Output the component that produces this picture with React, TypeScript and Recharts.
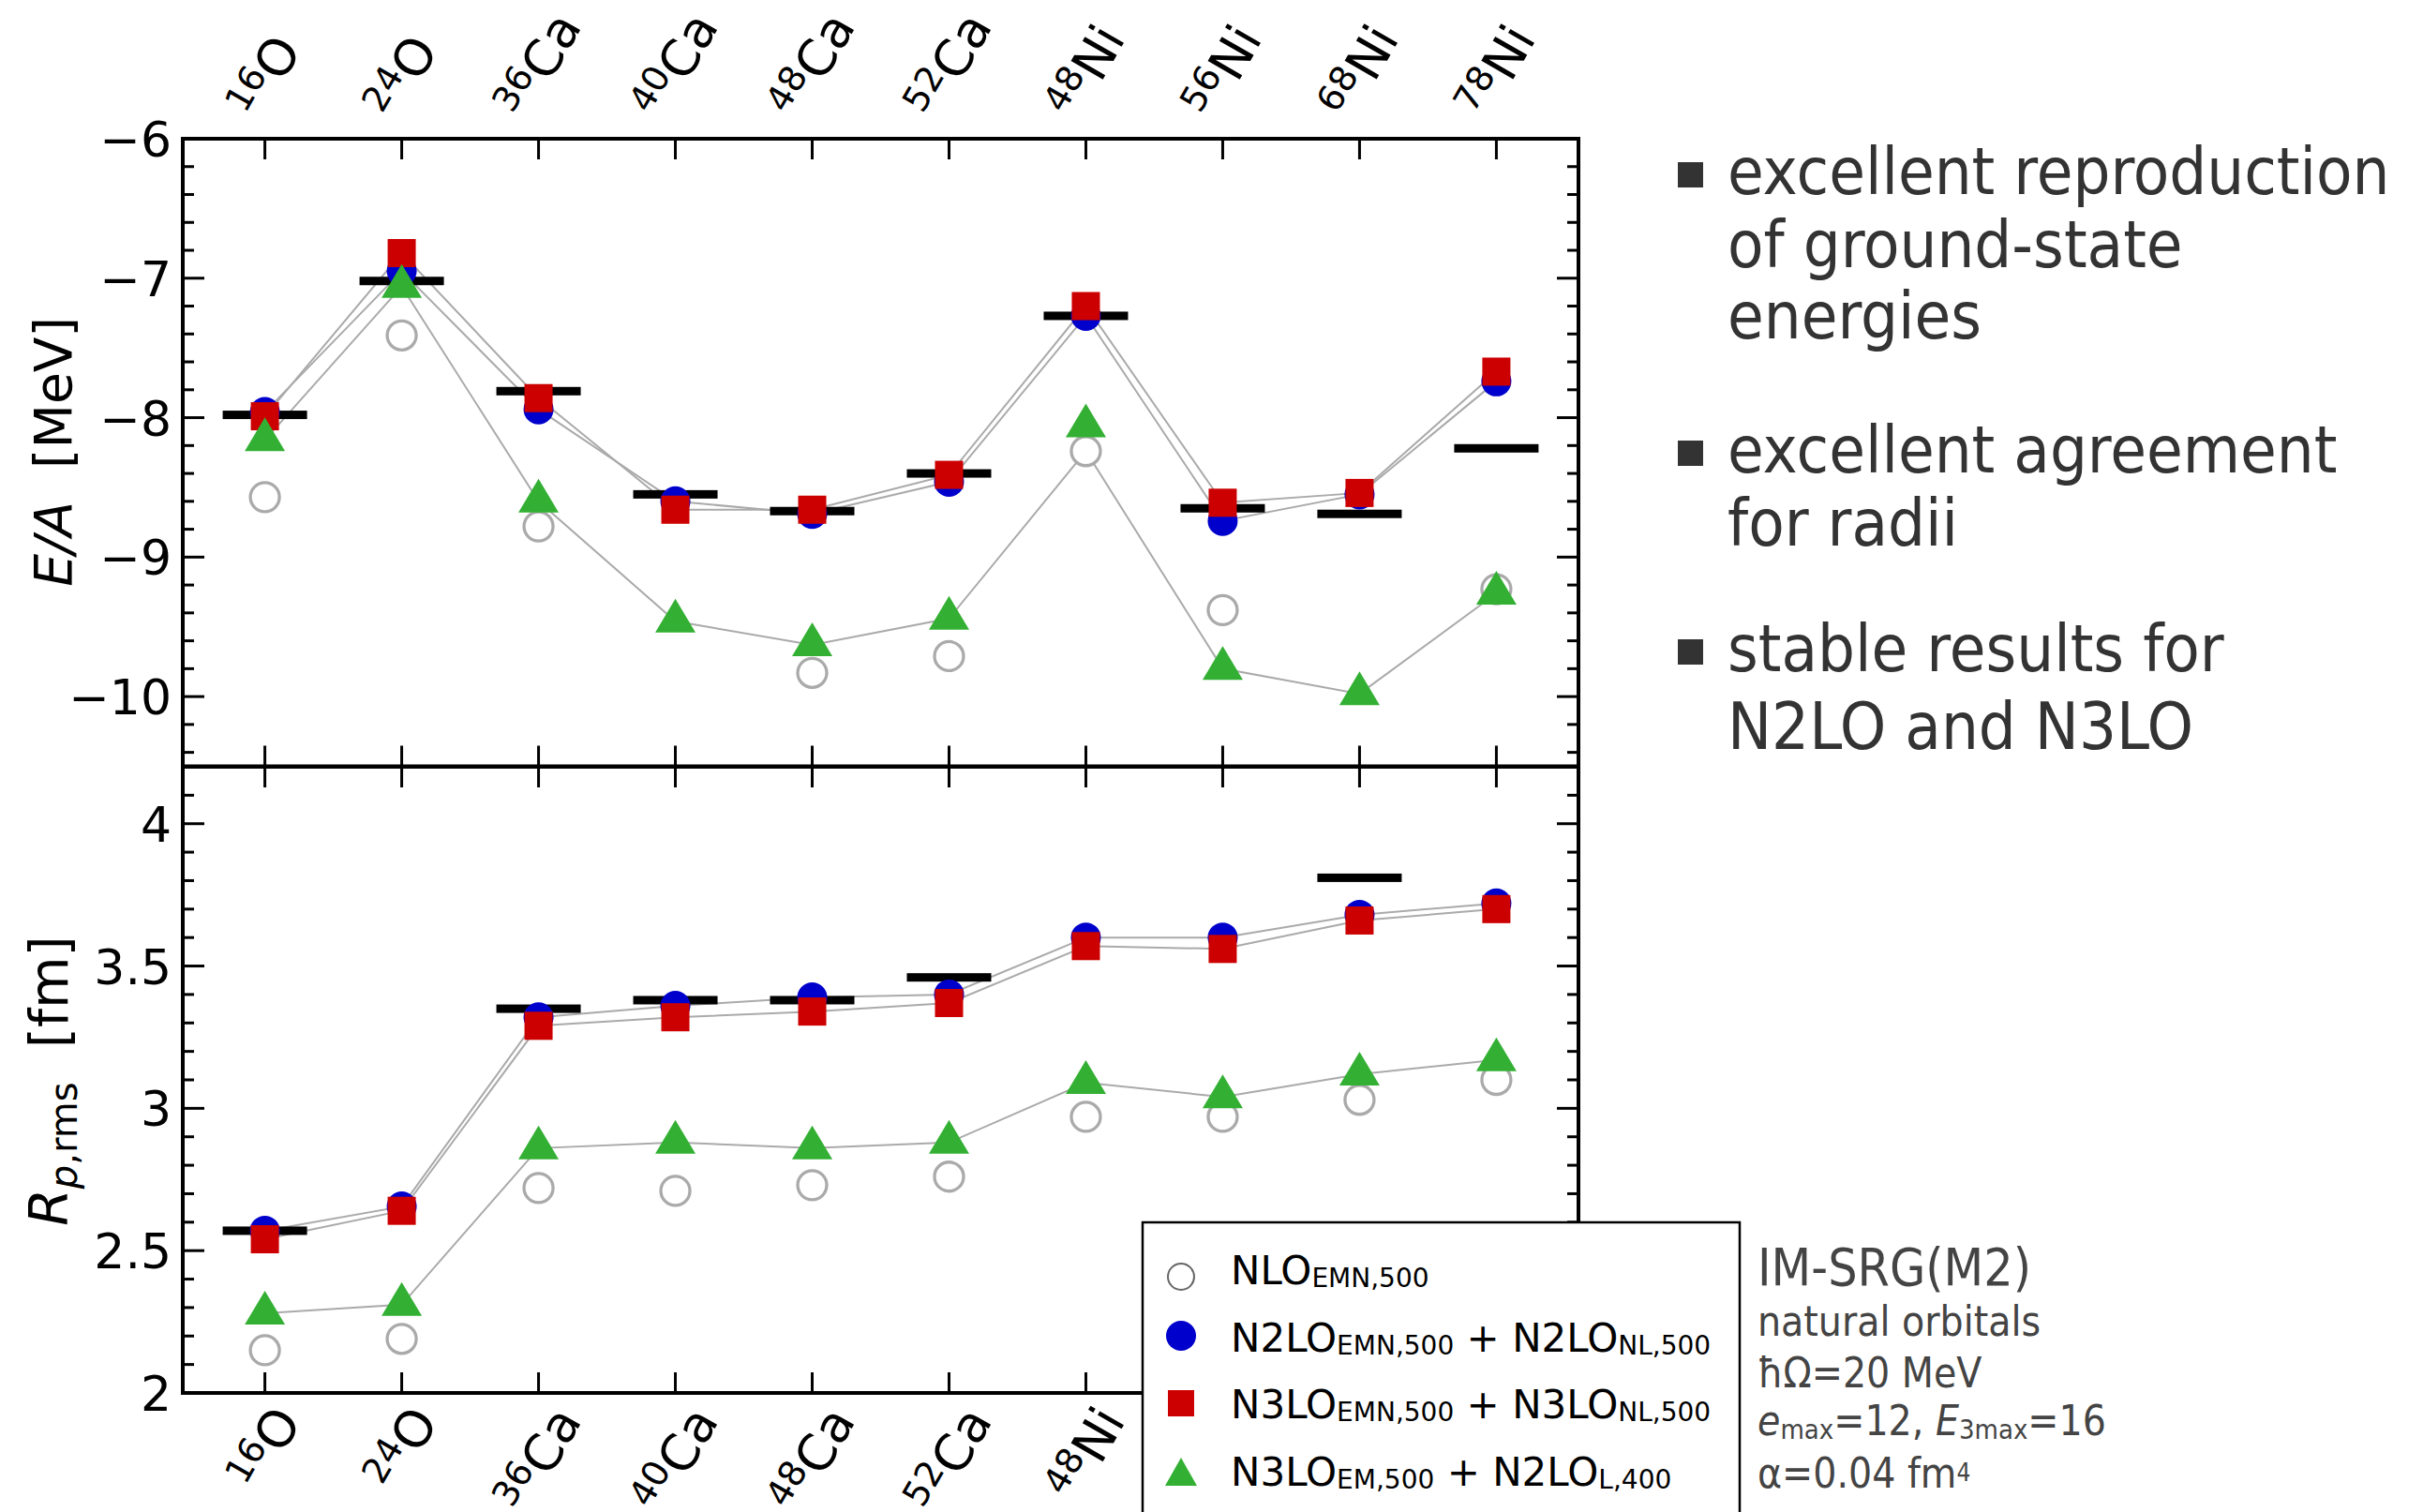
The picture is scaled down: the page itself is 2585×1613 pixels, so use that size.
import React from 'react';
import { LineChart, Line, XAxis, YAxis, ReferenceArea } from 'recharts';

// ---- nuclei ----
const massNumbers = ['16', '24', '36', '40', '48', '52', '48', '56', '68', '78'];
const elementSymbols = ['O', 'O', 'Ca', 'Ca', 'Ca', 'Ca', 'Ni', 'Ni', 'Ni', 'Ni'];
const isotopeIndex = [0, 1, 2, 3, 4, 5, 6, 7, 8, 9];

// ---- ground-state energy per nucleon E/A [MeV] ----
const nloEnergy = [-8.57, -7.41, -8.78, null, -9.83, -9.71, -8.24, -9.38, null, -9.23];
const n2loEnergy = [-7.96, -6.95, -7.94, -8.6, -8.69, -8.46, -7.27, -8.74, -8.55, -7.74];
const n3loEnergy = [-7.99, -6.82, -7.86, -8.66, -8.66, -8.41, -7.2, -8.61, -8.54, -7.67];
const n3loEmEnergy = [-8.16, -7.06, -8.6, -9.46, -9.63, -9.44, -8.06, -9.8, -9.98, -9.26];
// guide line drawn through the N3LO_EM,500 + N2LO_L,400 results
const n3loEmEnergyGuide = [-8.16, -7.06, -8.6, -9.46, -9.63, -9.44, -8.24, -9.8, -9.98, -9.26];
const expEnergy = [-7.98, -7.02, -7.81, -8.55, -8.67, -8.4, -7.27, -8.65, -8.69, -8.22];

// ---- point-proton rms radius [fm] ----
const nloRadius = [2.15, 2.19, 2.72, 2.71, 2.73, 2.76, 2.97, 2.97, 3.03, 3.1];
const n2loRadius = [2.57, 2.655, 3.32, 3.36, 3.39, 3.4, 3.6, 3.6, 3.68, 3.72];
const n3loRadius = [2.54, 2.64, 3.29, 3.32, 3.34, 3.37, 3.57, 3.56, 3.66, 3.7];
const n3loEmRadius = [2.28, 2.31, 2.86, 2.88, 2.86, 2.88, 3.09, 3.04, 3.12, 3.17];
const expRadius = [2.57, null, 3.35, 3.38, 3.38, 3.46, null, null, 3.81, null];

// ---- axis ticks ----
const energyDomain = [-10.5, -6];
const energyMajorTicks = [-10, -9, -8, -7, -6];
const energyMinorTicks = [-10.4, -10.2, -9.8, -9.6, -9.4, -9.2, -8.8, -8.6, -8.4, -8.2, -7.8, -7.6, -7.4, -7.2, -6.8, -6.6, -6.4, -6.2];
const radiusDomain = [2, 4.2];
const radiusMajorTicks = [2, 2.5, 3, 3.5, 4];
const radiusMinorTicks = [2.1, 2.2, 2.3, 2.4, 2.6, 2.7, 2.8, 2.9, 3.1, 3.2, 3.3, 3.4, 3.6, 3.7, 3.8, 3.9, 4.1];
const xDomain = [-0.6, 9.6];

// ---- style ----
const BLUE = '#0000cc';
const RED = '#cc0000';
const GREEN = '#33b033';
const GUIDE = '#aaaaaa';
const FONT = "'DejaVu Sans', sans-serif";
const FONT_COND = "'DejaVu Sans Condensed', 'DejaVu Sans', sans-serif";

const PLOT_LEFT = 195;
const PLOT_RIGHT = 1684;
const TICK_FONT = 52;
const ISO_FONT = 54;
const ISO_SUP_FONT = 38;

const energyRows = isotopeIndex.map((i) => ({
  idx: i,
  nlo: nloEnergy[i],
  n2lo: n2loEnergy[i],
  n3lo: n3loEnergy[i],
  n3loEm: n3loEmEnergy[i],
  n3loEmGuide: n3loEmEnergyGuide[i],
  exp: expEnergy[i],
}));

const radiusRows = isotopeIndex.map((i) => ({
  idx: i,
  nlo: nloRadius[i],
  n2lo: n2loRadius[i],
  n3lo: n3loRadius[i],
  n3loEm: n3loEmRadius[i],
  n3loEmGuide: n3loEmRadius[i],
  exp: expRadius[i],
}));

// ---- marker shapes ----
const empty = (p: any) => <g key={`e-${p.index}`} />;
const missing = (p: any) => p.cy == null || p.value == null || Number.isNaN(p.cy);

const openDot = (p: any) =>
  missing(p) ? empty(p) : (
    <circle key={`o-${p.index}`} cx={p.cx} cy={p.cy} r={15.5} fill="#fff" stroke="#aaaaaa" strokeWidth={3.3} />
  );
const blueDot = (p: any) =>
  missing(p) ? empty(p) : <circle key={`b-${p.index}`} cx={p.cx} cy={p.cy} r={16} fill={BLUE} />;
const redDot = (p: any) =>
  missing(p) ? empty(p) : <rect key={`r-${p.index}`} x={p.cx - 15} y={p.cy - 15} width={30} height={30} fill={RED} />;
const greenDot = (p: any) =>
  missing(p) ? empty(p) : (
    <path
      key={`g-${p.index}`}
      d={`M${p.cx},${p.cy - 24} L${p.cx + 21.5},${p.cy + 12} L${p.cx - 21.5},${p.cy + 12} Z`}
      fill={GREEN}
    />
  );
const expBar = (p: any) =>
  missing(p) ? empty(p) : <rect key={`x-${p.index}`} x={p.cx - 45} y={p.cy - 4.5} width={90} height={9} fill="#000" />;

// ---- tick renderers ----
const GLYPH_EM: Record<string, number> = {
  '0': 0.636, '1': 0.636, '2': 0.636, '3': 0.636, '4': 0.636, '5': 0.636, '6': 0.636, '7': 0.636, '8': 0.636, '9': 0.636,
  O: 0.787, C: 0.698, a: 0.613, N: 0.748, i: 0.278,
};
const labelLength = (i: number) =>
  massNumbers[i].split('').reduce((s, c) => s + GLYPH_EM[c] * ISO_SUP_FONT, 0) +
  elementSymbols[i].split('').reduce((s, c) => s + GLYPH_EM[c] * ISO_FONT, 0);

function IsotopeLabel({ i, cx, side, edge }: { i: number; cx: number; side: 'top' | 'bottom'; edge: number }) {
  const L = labelLength(i);
  const A = 0.95 * ISO_FONT;
  let ax: number;
  let ay: number;
  let anchor: 'start' | 'end';
  if (side === 'top') {
    ax = cx - (0.5 * L - 0.866 * A) / 2 - 5;
    ay = edge;
    anchor = 'start';
  } else {
    ax = cx + (0.5 * L + 0.866 * A) / 2 - 5;
    ay = edge + 0.5 * A;
    anchor = 'end';
  }
  return (
    <text x={ax} y={ay} textAnchor={anchor} transform={`rotate(-60 ${ax} ${ay})`} fontFamily={FONT} fill="#000">
      <tspan fontSize={ISO_SUP_FONT} dy={-18}>{massNumbers[i]}</tspan>
      <tspan fontSize={ISO_FONT} dy={18}>{elementSymbols[i]}</tspan>
    </text>
  );
}

type Panel = { top: number; bottom: number; labelSide: 'top' | 'bottom' };

const xTick = (panel: Panel) => (props: any) => {
  const cx = props.payload.coordinate;
  const i = props.payload.value;
  const edge = panel.labelSide === 'top' ? panel.top - 17 : panel.bottom + 4;
  return (
    <g key={`xt-${i}`}>
      <line x1={cx} x2={cx} y1={panel.top} y2={panel.top + 22} stroke="#000" strokeWidth={3} />
      <line x1={cx} x2={cx} y1={panel.bottom} y2={panel.bottom - 22} stroke="#000" strokeWidth={3} />
      <IsotopeLabel i={i} cx={cx} side={panel.labelSide} edge={edge} />
    </g>
  );
};

const yTick = (majors: number[], fmt: (v: number) => string) => (props: any) => {
  const y = props.payload.coordinate;
  const v = props.payload.value;
  const major = majors.includes(v);
  const len = major ? 23 : 12;
  return (
    <g key={`yt-${v}`}>
      <line x1={PLOT_LEFT} x2={PLOT_LEFT + len} y1={y} y2={y} stroke="#000" strokeWidth={3} />
      <line x1={PLOT_RIGHT - len} x2={PLOT_RIGHT} y1={y} y2={y} stroke="#000" strokeWidth={3} />
      {major && (
        <text x={PLOT_LEFT - 12} y={y + 19} textAnchor="end" fontSize={TICK_FONT} fontFamily={FONT} fill="#000">
          {fmt(v)}
        </text>
      )}
    </g>
  );
};

const fmtEnergy = (v: number) => (v < 0 ? `\u2212${Math.abs(v)}` : `${v}`);
const fmtRadius = (v: number) => `${v}`;

// ---- series stack shared by both panels ----
function seriesLayers() {
  return [
    <Line key="l-em" dataKey="n3loEmGuide" stroke={GUIDE} strokeWidth={2} dot={false} activeDot={false} isAnimationActive={false} />,
    <Line key="l-n2" dataKey="n2lo" stroke={GUIDE} strokeWidth={2} dot={false} activeDot={false} isAnimationActive={false} />,
    <Line key="l-n3" dataKey="n3lo" stroke={GUIDE} strokeWidth={2} dot={false} activeDot={false} isAnimationActive={false} />,
    <Line key="d-nlo" dataKey="nlo" stroke="none" dot={openDot} activeDot={false} isAnimationActive={false} />,
    <Line key="d-exp" dataKey="exp" stroke="none" dot={expBar} activeDot={false} isAnimationActive={false} />,
    <Line key="d-n2" dataKey="n2lo" stroke="none" dot={blueDot} activeDot={false} isAnimationActive={false} />,
    <Line key="d-n3" dataKey="n3lo" stroke="none" dot={redDot} activeDot={false} isAnimationActive={false} />,
    <Line key="d-em" dataKey="n3loEm" stroke="none" dot={greenDot} activeDot={false} isAnimationActive={false} />,
  ];
}

function EnergyPanel() {
  const panel: Panel = { top: 148, bottom: 817.5, labelSide: 'top' };
  return (
    <LineChart width={1800} height={830} data={energyRows} margin={{ top: 48, right: 116, bottom: 12.5, left: 45 }}>
      <XAxis
        dataKey="idx"
        type="number"
        domain={xDomain}
        ticks={isotopeIndex}
        interval={0}
        orientation="top"
        height={100}
        axisLine={false}
        tickLine={false}
        tick={xTick(panel)}
      />
      <YAxis
        type="number"
        domain={energyDomain}
        ticks={[...energyMinorTicks, ...energyMajorTicks]}
        interval={0}
        width={150}
        axisLine={false}
        tickLine={false}
        tick={yTick(energyMajorTicks, fmtEnergy)}
      />
      {seriesLayers()}
      <ReferenceArea x1={xDomain[0]} x2={xDomain[1]} y1={energyDomain[0]} y2={energyDomain[1]} fill="none" fillOpacity={0} stroke="#000" strokeWidth={4} />
    </LineChart>
  );
}

function RadiusPanel() {
  const panel: Panel = { top: 118, bottom: 786, labelSide: 'bottom' };
  return (
    <LineChart width={1800} height={913} data={radiusRows} margin={{ top: 118, right: 116, bottom: 7, left: 45 }}>
      <XAxis
        dataKey="idx"
        type="number"
        domain={xDomain}
        ticks={isotopeIndex}
        interval={0}
        orientation="bottom"
        height={120}
        axisLine={false}
        tickLine={false}
        tick={xTick(panel)}
      />
      <YAxis
        type="number"
        domain={radiusDomain}
        ticks={[...radiusMinorTicks, ...radiusMajorTicks]}
        interval={0}
        width={150}
        axisLine={false}
        tickLine={false}
        tick={yTick(radiusMajorTicks, fmtRadius)}
      />
      {seriesLayers()}
      <ReferenceArea x1={xDomain[0]} x2={xDomain[1]} y1={radiusDomain[0]} y2={radiusDomain[1]} fill="none" fillOpacity={0} stroke="#000" strokeWidth={4} />
    </LineChart>
  );
}

// ---- legend, notes and axis titles ----
const SUB = 28;
function Sub({ children }: { children: React.ReactNode }) {
  return (
    <tspan fontSize={SUB} dy={3}>
      {children}
    </tspan>
  );
}
function Main({ children }: { children: React.ReactNode }) {
  return <tspan dy={-3}>{children}</tspan>;
}

const bulletItems = [
  { lines: ['excellent reproduction', 'of ground-state', 'energies'], baselines: [207, 285, 361] },
  { lines: ['excellent agreement', 'for radii'], baselines: [504, 582] },
  { lines: ['stable results for', 'N2LO and N3LO'], baselines: [716, 799] },
];

function Overlay() {
  return (
    <svg width={2585} height={1613} style={{ position: 'absolute', left: 0, top: 0, pointerEvents: 'none' }}>
      {/* axis titles */}
      <text x={76} y={482} transform="rotate(-90 76 482)" textAnchor="middle" fontSize={55} fontFamily={FONT} fill="#000">
        <tspan fontStyle="italic">E/A</tspan>
        <tspan>{'\u00a0\u00a0[MeV]'}</tspan>
      </text>
      <text x={72} y={1153} transform="rotate(-90 72 1153)" textAnchor="middle" fontSize={57} fontFamily={FONT} fill="#000">
        <tspan fontStyle="italic">R</tspan>
        <tspan fontSize={40} dy={10} fontStyle="italic">p</tspan>
        <tspan fontSize={40}>,rms</tspan>
        <tspan dy={-10}>{'\u00a0\u00a0[fm]'}</tspan>
      </text>

      {/* legend */}
      <rect x={1219} y={1304} width={637} height={340} fill="#fff" stroke="#000" strokeWidth={2.5} />
      <circle cx={1260} cy={1362} r={14} fill="none" stroke="#666" strokeWidth={2} />
      <circle cx={1260} cy={1425} r={16} fill={BLUE} />
      <rect x={1246} y={1483} width={28} height={28} fill={RED} />
      <path d="M1260,1555 L1277,1585 L1243,1585 Z" fill={GREEN} />
      <g fontFamily={FONT} fontSize={42} fill="#000">
        <text x={1313} y={1370}>
          NLO<Sub>EMN,500</Sub>
        </text>
        <text x={1313} y={1442}>
          N2LO<Sub>EMN,500</Sub>
          <Main>{'\u00a0+\u00a0N2LO'}</Main>
          <Sub>NL,500</Sub>
        </text>
        <text x={1313} y={1513}>
          N3LO<Sub>EMN,500</Sub>
          <Main>{'\u00a0+\u00a0N3LO'}</Main>
          <Sub>NL,500</Sub>
        </text>
        <text x={1313} y={1585}>
          N3LO<Sub>EM,500</Sub>
          <Main>{'\u00a0+\u00a0N2LO'}</Main>
          <Sub>L,400</Sub>
        </text>
      </g>

      {/* calculation details */}
      <g fontFamily={FONT_COND} fill="#444" style={{ fontStretch: 'condensed' }}>
        <text x={1875} y={1371} fontSize={55}>IM-SRG(M2)</text>
        <text x={1875} y={1425} fontSize={44}>natural orbitals</text>
        <text x={1875} y={1480} fontSize={44}>{'\u0127\u03a9=20 MeV'}</text>
        <text x={1875} y={1531} fontSize={44}>
          <tspan fontStyle="italic">e</tspan>
          <tspan fontSize={29} dy={4}>max</tspan>
          <tspan dy={-4}>{'=12,\u00a0'}</tspan>
          <tspan fontStyle="italic">E</tspan>
          <tspan fontSize={29} dy={4}>3max</tspan>
          <tspan dy={-4}>=16</tspan>
        </text>
        <text x={1875} y={1587} fontSize={44}>
          {'\u03b1=0.04 fm'}
          <tspan fontSize={26} dy={-7}>4</tspan>
        </text>
      </g>

      {/* summary bullets */}
      <g fontFamily={FONT_COND} fill="#333" fontSize={70} style={{ fontStretch: 'condensed' }}>
        {bulletItems.map((b, k) => (
          <g key={k}>
            <rect x={1790} y={b.baselines[0] - 34} width={27} height={27} fill="#333" />
            {b.lines.map((t, j) => (
              <text key={j} x={1843} y={b.baselines[j]}>
                {t}
              </text>
            ))}
          </g>
        ))}
      </g>
    </svg>
  );
}

export default function App() {
  return (
    <div style={{ position: 'absolute', left: 0, top: 0, width: 2585, height: 1613, background: '#fff', overflow: 'hidden' }}>
      <div style={{ position: 'absolute', left: 0, top: 0 }}>
        <EnergyPanel />
      </div>
      <div style={{ position: 'absolute', left: 0, top: 700 }}>
        <RadiusPanel />
      </div>
      <Overlay />
    </div>
  );
}
